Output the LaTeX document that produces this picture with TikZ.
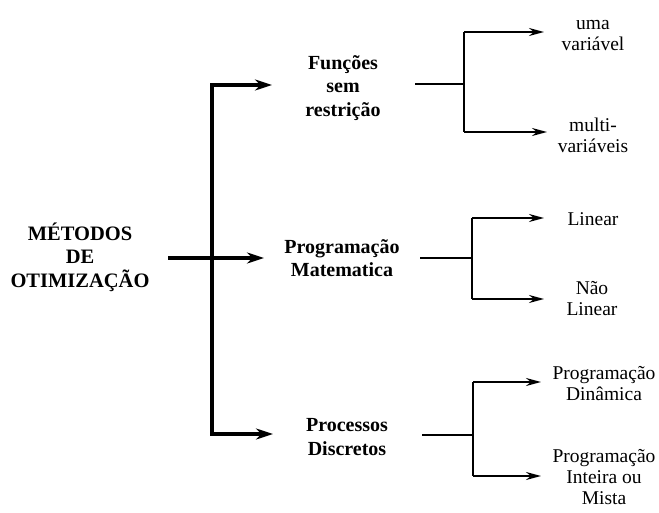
\documentclass[tikz,border=0pt]{standalone}
\usepackage{fontspec}
\setmainfont{Liberation Serif}
\usetikzlibrary{arrows.meta}
\begin{document}
\begin{tikzpicture}[x=1pt,y=-1pt,
  mainlbl/.style={align=center,font=\fontsize{20.5}{23.5}\selectfont\bfseries,inner sep=0pt},
  midlbl/.style={align=center,font=\fontsize{20}{23.5}\selectfont\bfseries,inner sep=0pt},
  leaflbl/.style={align=center,font=\fontsize{19.5}{21}\selectfont,inner sep=0pt},
  thickline/.style={line width=3.6pt,line cap=rect},
  thinline/.style={line width=1.8pt},
  bigarrow/.style={thickline,-{Stealth[length=17pt,width=11pt]}},
  smallarrow/.style={thinline,-{Stealth[length=15pt,width=8pt]}}]
\useasboundingbox (0,0) rectangle (659,513);
% labels
\node[mainlbl] (main) at (80,257) {MÉTODOS\\DE\\OTIMIZAÇÃO};
\node[midlbl] (fsr) at (343,88) {Funções\\sem\\restrição};
\node[midlbl] (pm) at (342,258) {Programação\\Matematica};
\node[midlbl] (pd) at (347,437) {Processos\\Discretos};
\node[leaflbl] (uv) at (593,36) {uma\\variável};
\node[leaflbl] (mv) at (593,135) {multi-\\variáveis};
\node[leaflbl] (lin) at (593,219) {Linear};
\node[leaflbl] (nl) at (592,299) {Não\\Linear};
\node[leaflbl] (pdin) at (604,384) {Programação\\Dinâmica};
\node[leaflbl] (pim) at (604,477) {Programação\\Inteira ou\\Mista};
% main trunk
\coordinate (s0) at (170,258);
\coordinate (j0) at (212,258);
\coordinate (jt) at (212,85);
\coordinate (jb) at (212,434);
\coordinate (tf) at (272,85);
\coordinate (tm) at (264,258);
\coordinate (tp) at (273,434);
\draw[thickline] (s0) -- (j0);
\draw[thickline] (jt) -- (jb);
\draw[bigarrow] (jt) -- (tf);
\draw[bigarrow] (j0) -- (tm);
\draw[bigarrow] (jb) -- (tp);
% branch 1
\coordinate (a0) at (415,84);
\coordinate (a1) at (464,84);
\coordinate (a2) at (464,32);
\coordinate (a3) at (464,132);
\coordinate (a4) at (544,32);
\coordinate (a5) at (547,132);
\draw[thinline] (a0) -- (a1);
\draw[thinline] (a2) -- (a3);
\draw[smallarrow] (a2) -- (a4);
\draw[smallarrow] (a3) -- (a5);
% branch 2
\coordinate (b0) at (420,258);
\coordinate (b1) at (472,258);
\coordinate (b2) at (472,218);
\coordinate (b3) at (472,299);
\coordinate (b4) at (544,218);
\coordinate (b5) at (544,299);
\draw[thinline] (b0) -- (b1);
\draw[thinline] (b2) -- (b3);
\draw[smallarrow] (b2) -- (b4);
\draw[smallarrow] (b3) -- (b5);
% branch 3
\coordinate (c0) at (422,435);
\coordinate (c1) at (473,435);
\coordinate (c2) at (473,382);
\coordinate (c3) at (473,476);
\coordinate (c4) at (541,382);
\coordinate (c5) at (541,476);
\draw[thinline] (c0) -- (c1);
\draw[thinline] (c2) -- (c3);
\draw[smallarrow] (c2) -- (c4);
\draw[smallarrow] (c3) -- (c5);
\end{tikzpicture}
\end{document}
